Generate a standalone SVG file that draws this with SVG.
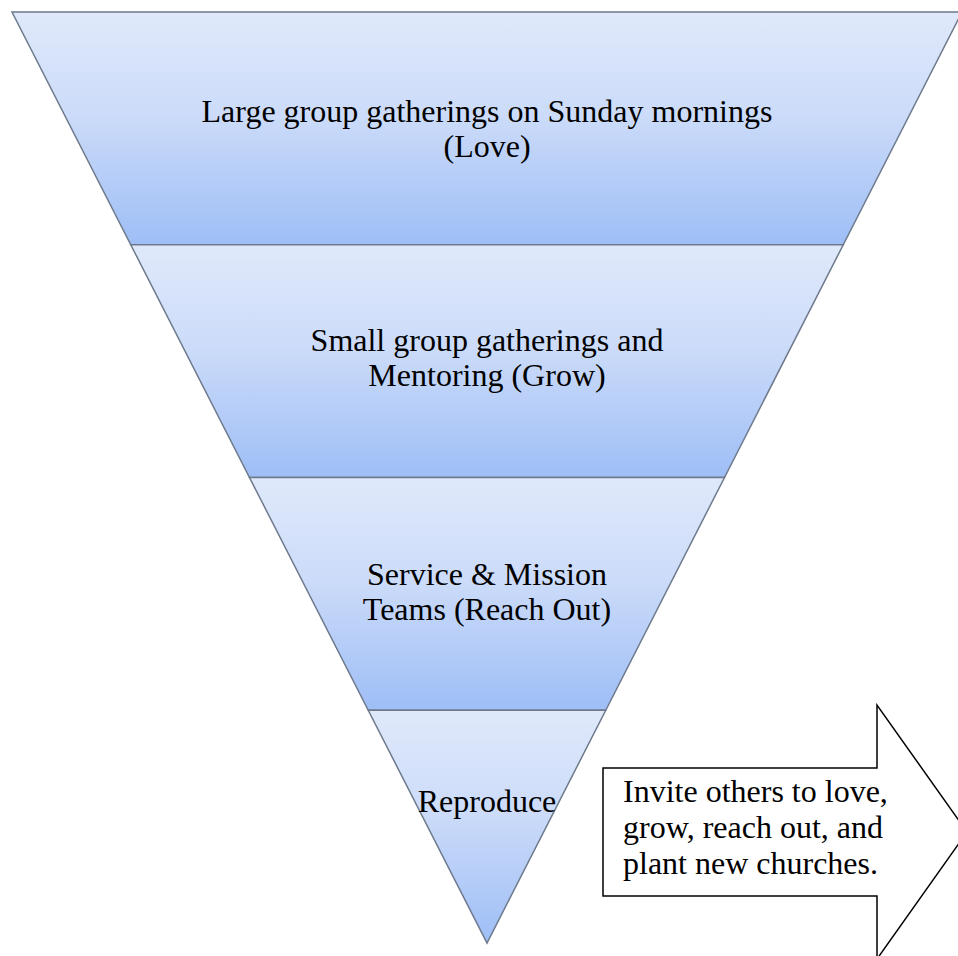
<svg xmlns="http://www.w3.org/2000/svg" width="958" height="956" viewBox="0 0 958 956">
<style>
.band{stroke:#6e7a8c;stroke-width:1.5;stroke-linejoin:miter}
.t{font-family:"Liberation Serif","Times New Roman",serif;font-size:32px;fill:#000}
.c{text-anchor:middle}
.arrow{fill:#fff;stroke:#000;stroke-width:1.5}
</style>
<defs>
<linearGradient id="g" x1="0" y1="0" x2="0" y2="1">
<stop offset="0" stop-color="#e0e9fb"/>
<stop offset="0.45" stop-color="#cbdbf9"/>
<stop offset="1" stop-color="#9ebef6"/>
</linearGradient>
</defs>
<rect width="958" height="956" fill="#fff"/>
<g id="band1">
<polygon class="band" fill="url(#g)" points="12,12 962,12 843.25,244.75 130.75,244.75"/>
<text class="t c" x="487" y="122">Large group gatherings on Sunday mornings</text>
<text class="t c" x="487" y="157">(Love)</text>
</g>
<g id="band2">
<polygon class="band" fill="url(#g)" points="130.75,244.75 843.25,244.75 724.5,477.5 249.5,477.5"/>
<text class="t c" x="487" y="351">Small group gatherings and</text>
<text class="t c" x="487" y="386">Mentoring (Grow)</text>
</g>
<g id="band3">
<polygon class="band" fill="url(#g)" points="249.5,477.5 724.5,477.5 605.75,710.25 368.25,710.25"/>
<text class="t c" x="487" y="585">Service &amp; Mission</text>
<text class="t c" x="487" y="620">Teams (Reach Out)</text>
</g>
<g id="band4">
<polygon class="band" fill="url(#g)" points="368.25,710.25 605.75,710.25 487,943"/>
<text class="t c" x="487" y="812">Reproduce</text>
</g>
<g id="arrow">
<polygon class="arrow" points="603,768 877,768 877,705 967,832 877,959 877,896 603,896"/>
<text class="t" x="623" y="802">Invite others to love,</text>
<text class="t" x="623" y="838">grow, reach out, and</text>
<text class="t" x="623" y="874">plant new churches.</text>
</g>
<g id="connectors"></g>
</svg>
